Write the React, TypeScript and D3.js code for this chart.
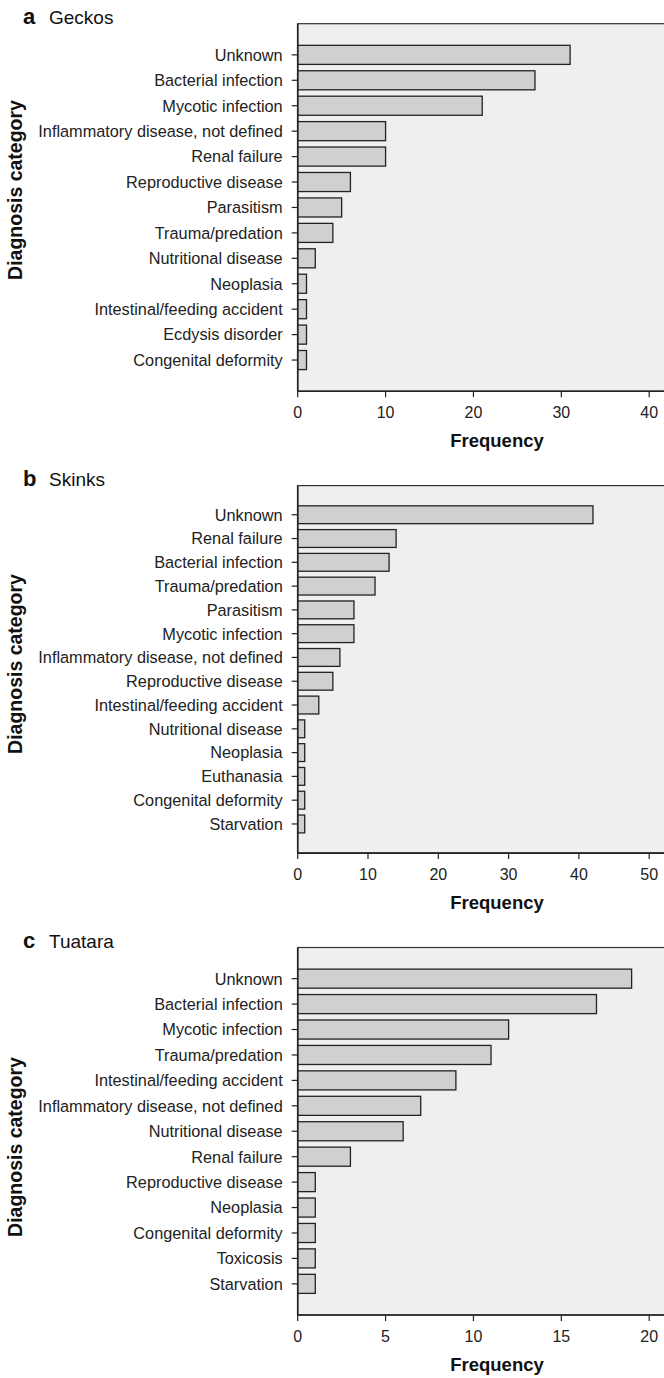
import React from "react";
import * as d3 from "d3";

// Post-mortem diagnosis frequencies for three reptile groups
const geckoCategories = [
  "Unknown",
  "Bacterial infection",
  "Mycotic infection",
  "Inflammatory disease, not defined",
  "Renal failure",
  "Reproductive disease",
  "Parasitism",
  "Trauma/predation",
  "Nutritional disease",
  "Neoplasia",
  "Intestinal/feeding accident",
  "Ecdysis disorder",
  "Congenital deformity",
];
const geckoValues = [31, 27, 21, 10, 10, 6, 5, 4, 2, 1, 1, 1, 1];
const geckoTicks = [0, 10, 20, 30, 40];

const skinkCategories = [
  "Unknown",
  "Renal failure",
  "Bacterial infection",
  "Trauma/predation",
  "Parasitism",
  "Mycotic infection",
  "Inflammatory disease, not defined",
  "Reproductive disease",
  "Intestinal/feeding accident",
  "Nutritional disease",
  "Neoplasia",
  "Euthanasia",
  "Congenital deformity",
  "Starvation",
];
const skinkValues = [42, 14, 13, 11, 8, 8, 6, 5, 3, 1, 1, 1, 1, 1];
const skinkTicks = [0, 10, 20, 30, 40, 50];

const tuataraCategories = [
  "Unknown",
  "Bacterial infection",
  "Mycotic infection",
  "Trauma/predation",
  "Intestinal/feeding accident",
  "Inflammatory disease, not defined",
  "Nutritional disease",
  "Renal failure",
  "Reproductive disease",
  "Neoplasia",
  "Congenital deformity",
  "Toxicosis",
  "Starvation",
];
const tuataraValues = [19, 17, 12, 11, 9, 7, 6, 3, 1, 1, 1, 1, 1];
const tuataraTicks = [0, 5, 10, 15, 20];

const FONT = "'Liberation Sans', Arial, Helvetica, sans-serif";
const WIDTH = 664;
const HEIGHT = 1378;
const X0 = 297.7;
const X_LAST_TICK = 649.2;
const PLOT_H = 367.5;

type PanelSpec = {
  letter: string;
  name: string;
  categories: string[];
  values: number[];
  ticks: number[];
  top: number;
  yTitleCenter: number;
};

const panels: PanelSpec[] = [
  { letter: "a", name: "Geckos", categories: geckoCategories, values: geckoValues, ticks: geckoTicks, top: 23.7, yTitleCenter: 190 },
  { letter: "b", name: "Skinks", categories: skinkCategories, values: skinkValues, ticks: skinkTicks, top: 485.6, yTitleCenter: 664 },
  { letter: "c", name: "Tuatara", categories: tuataraCategories, values: tuataraValues, ticks: tuataraTicks, top: 947.5, yTitleCenter: 1147 },
];

function Panel({ spec }: { spec: PanelSpec }) {
  const { letter, name, categories, values, ticks, top, yTitleCenter } = spec;
  const bottom = top + PLOT_H;
  const x = d3
    .scaleLinear()
    .domain([0, ticks[ticks.length - 1]])
    .range([X0, X_LAST_TICK]);
  const y = d3
    .scaleBand<string>()
    .domain(categories)
    .range([top, bottom])
    .paddingInner(0.25)
    .paddingOuter(0.85);
  const bw = y.bandwidth();

  return (
    <g>
      {/* panel heading */}
      <text x={23} y={top + 0.3} fontFamily={FONT} fontSize={22} fontWeight="bold" fill="#111">
        {letter}
      </text>
      <text x={49} y={top + 0.3} fontFamily={FONT} fontSize={19} fill="#111">
        {name}
      </text>

      {/* plotting area */}
      <rect x={X0} y={top} width={WIDTH + 20 - X0} height={PLOT_H} fill="#efefef" stroke="#333" strokeWidth={1.2} />

      {/* bars */}
      {categories.map((c, i) => (
        <rect
          key={c}
          x={X0}
          y={y(c)}
          width={x(values[i]) - X0}
          height={bw}
          fill="#d0d1cf"
          stroke="#222"
          strokeWidth={1.3}
        />
      ))}

      {/* axes */}
      <line x1={X0} x2={X0} y1={top} y2={bottom} stroke="#222" strokeWidth={1.6} />
      <line x1={X0} x2={WIDTH + 20} y1={bottom} y2={bottom} stroke="#222" strokeWidth={1.6} />

      {/* category ticks and labels */}
      {categories.map((c) => {
        const cy = (y(c) as number) + bw / 2;
        return (
          <g key={c}>
            <line x1={X0 - 6} x2={X0} y1={cy} y2={cy} stroke="#222" strokeWidth={1.2} />
            <text x={X0 - 15} y={cy} dy="0.36em" textAnchor="end" fontFamily={FONT} fontSize={16.3} fill="#222">
              {c}
            </text>
          </g>
        );
      })}

      {/* frequency ticks and labels */}
      {ticks.map((t) => (
        <g key={t}>
          <line x1={x(t)} x2={x(t)} y1={bottom} y2={bottom + 6} stroke="#222" strokeWidth={1.2} />
          <text x={x(t)} y={bottom + 26.5} textAnchor="middle" fontFamily={FONT} fontSize={16} fill="#222">
            {t}
          </text>
        </g>
      ))}

      <text x={497} y={bottom + 56} textAnchor="middle" fontFamily={FONT} fontSize={18.5} fontWeight="bold" fill="#111">
        Frequency
      </text>

      <text
        transform={`translate(21.5, ${yTitleCenter}) rotate(-90)`}
        textAnchor="middle"
        fontFamily={FONT}
        fontSize={19.5}
        fontWeight="bold"
        fill="#111"
      >
        Diagnosis category
      </text>
    </g>
  );
}

export default function App() {
  return (
    <div style={{ position: "absolute", left: 0, top: 0, width: WIDTH, height: HEIGHT, background: "#fff" }}>
      <svg width={WIDTH} height={HEIGHT} viewBox={`0 0 ${WIDTH} ${HEIGHT}`} style={{ display: "block" }}>
        <rect x={0} y={0} width={WIDTH} height={HEIGHT} fill="#fff" />
        {panels.map((p) => (
          <Panel key={p.letter} spec={p} />
        ))}
      </svg>
    </div>
  );
}
